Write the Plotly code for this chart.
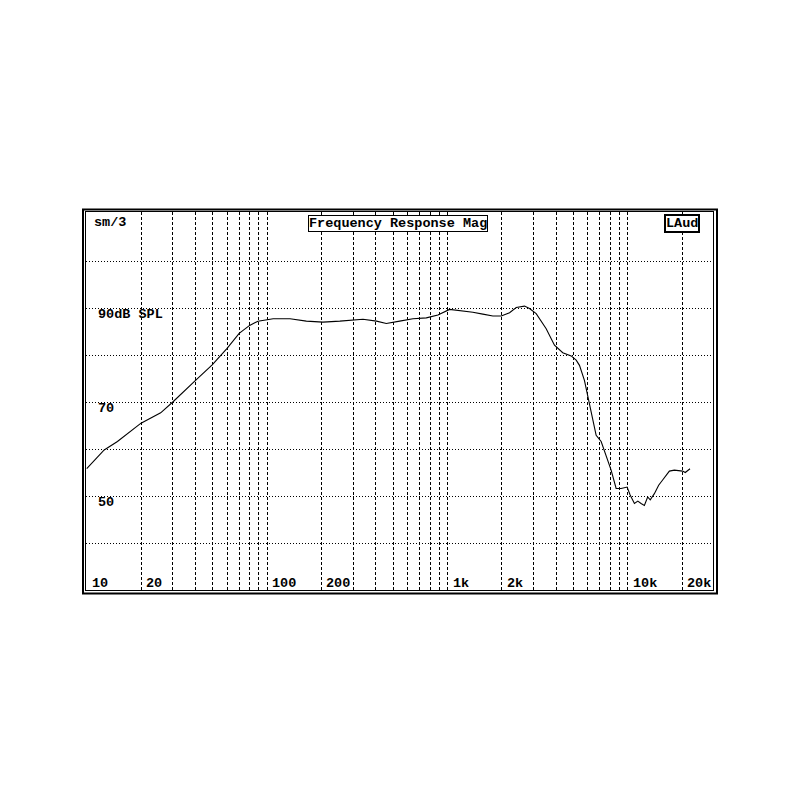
import math
import plotly.graph_objects as go

# ---- data ----
freq_hz = [10, 12.5, 14.8, 20, 25.7, 30, 39.3, 49.6, 60, 70, 80, 89, 108, 134, 165, 204,
           253, 340, 404, 458, 543, 643, 763, 885, 1027, 1217, 1382, 1570, 1784, 1986,
           2208, 2404, 2673, 2848, 3101, 3524, 3917, 4355, 4848, 5168, 5390, 5742, 6067,
           6383, 6668, 7108, 7575, 8072, 8604, 9170, 9900, 10290, 10870, 11350, 11830,
           12340, 12870, 13300, 14020, 14810, 15580, 16980, 18090, 20110, 20800, 22100]
spl_db = [55.8, 59.8, 61.6, 65.5, 67.7, 70.0, 74.3, 77.9, 81.4, 84.6, 86.3, 87.2, 87.7,
          87.7, 87.2, 87.0, 87.2, 87.6, 87.2, 86.7, 87.2, 87.7, 87.9, 88.5, 89.7, 89.4,
          89.1, 88.7, 88.3, 88.3, 89.0, 90.1, 90.4, 89.9, 88.8, 85.6, 82.1, 80.5, 79.8,
          78.9, 77.8, 74.6, 70.0, 66.1, 62.9, 61.6, 58.7, 55.5, 51.6, 51.6, 51.9, 50.2,
          48.4, 48.9, 48.4, 48.0, 49.8, 49.2, 50.5, 52.3, 53.4, 55.3, 55.5, 55.3, 55.0, 55.8]

x_grid = [20, 30, 40, 50, 60, 70, 80, 90, 100, 200, 300, 400, 500, 600, 700, 800, 900,
          1000, 2000, 3000, 4000, 5000, 6000, 7000, 8000, 9000, 10000, 20000]
x_label_vals = [10, 20, 100, 200, 1000, 2000, 10000, 20000]
x_label_text = ["10", "20", "100", "200", "1k", "2k", "10k", "20k"]
y_grid = [40, 50, 60, 70, 80, 90, 100]
y_label_vals = [90, 70, 50]
y_label_text = ["90dB SPL", "70", "50"]

title_text = "Frequency Response Mag"
corner_left = "sm/3"
corner_right = "LAud"

# ---- geometry (page pixel coordinates of the plot area) ----
OFF = 8  # browser body margin
W = H = 784
L, R, T, B = 86, 713, 212, 590
PW, PH = R - L, B - T


def px(x):
    return (x - L) / PW


def py(y):
    return (B - y) / PH


FONT = dict(family="Liberation Mono, DejaVu Sans Mono, monospace", size=13.5, color="black")

fig = go.Figure()
fig.add_trace(go.Scatter(x=freq_hz, y=spl_db, mode="lines",
                         line=dict(color="black", width=1.1), showlegend=False,
                         hoverinfo="skip"))

annotations = []
for v, t in zip(x_label_vals, x_label_text):
    annotations.append(dict(x=math.log10(v), xref="x", y=py(583.5), yref="paper",
                            text="<b>%s</b>" % t, showarrow=False, xanchor="left",
                            yanchor="middle", xshift=3, font=FONT))
for v, t in zip(y_label_vals, y_label_text):
    annotations.append(dict(x=px(96), xref="paper", y=v, yref="y",
                            text="<b>%s</b>" % t, showarrow=False, xanchor="left",
                            yanchor="middle", yshift=-6, font=FONT))
annotations.append(dict(x=px(398), xref="paper", y=py(223), yref="paper",
                        text="<b>%s</b>" % title_text, showarrow=False,
                        xanchor="center", yanchor="middle", font=FONT,
                        bordercolor="black", borderwidth=1, borderpad=0,
                        bgcolor="white"))
annotations.append(dict(x=px(92), xref="paper", y=py(222), yref="paper",
                        text="<b>%s</b>" % corner_left, showarrow=False,
                        xanchor="left", yanchor="middle", font=FONT))
annotations.append(dict(x=px(681.5), xref="paper", y=py(223), yref="paper",
                        text="<b>%s</b>" % corner_right, showarrow=False,
                        xanchor="center", yanchor="middle", font=FONT,
                        bordercolor="black", borderwidth=2, borderpad=0,
                        bgcolor="white"))

shapes = [dict(type="rect", xref="paper", yref="paper",
               x0=px(83), x1=px(717), y0=py(593.5), y1=py(209.5),
               line=dict(color="black", width=2), fillcolor="rgba(0,0,0,0)", layer="above")]

fig.update_layout(
    width=W, height=H,
    margin=dict(l=L - OFF, r=W - (R - OFF), t=T - OFF, b=H - (B - OFF), autoexpand=False),
    paper_bgcolor="white", plot_bgcolor="white",
    xaxis=dict(type="log", range=[math.log10(10) - 0.004, math.log10(10) + (R - L) / 180.6],
               tickvals=x_grid, showticklabels=False, ticks="",
               showgrid=True, gridcolor="black", gridwidth=1, griddash="3px,2px",
               showline=True, mirror=True, linecolor="black", linewidth=1,
               zeroline=False, fixedrange=True),
    yaxis=dict(range=[30, 30 + PH / 4.7], tickvals=y_grid, showticklabels=False, ticks="",
               showgrid=True, gridcolor="black", gridwidth=1, griddash="1px,2px",
               showline=True, mirror=True, linecolor="black", linewidth=1,
               zeroline=False, fixedrange=True),
    annotations=annotations,
    shapes=shapes,
    showlegend=False,
)

fig.write_html("out.html")
